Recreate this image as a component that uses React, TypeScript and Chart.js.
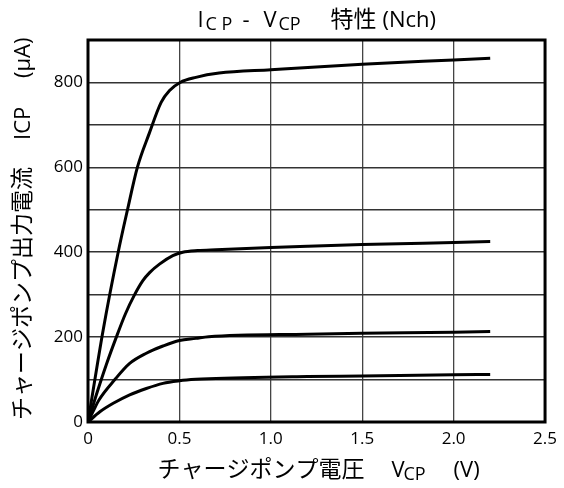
import React, { useEffect, useRef } from "react";
import { Chart, registerables } from "chart.js";

Chart.register(...registerables);

// Curve 1 (~800 µA saturation)
const v800 = [0, 0.083, 0.165, 0.216, 0.27, 0.335, 0.4, 0.446, 0.504, 0.59, 0.717, 1.0, 1.5, 2.0, 2.2];
const i800 = [0, 217, 400, 500, 600, 680, 753, 781, 800, 812, 822, 830, 843, 853, 857];
// Curve 2 (~400 µA)
const v400 = [0, 0.05, 0.1, 0.155, 0.205, 0.255, 0.3, 0.337, 0.391, 0.464, 0.518, 0.6, 0.7, 1.0, 1.2, 1.5, 2.0, 2.2];
const i400 = [0, 70, 135, 200, 255, 300, 333, 352, 372, 392, 400, 404, 406, 411, 414, 418, 423, 425];
// Curve 3 (~200 µA)
const v200 = [0, 0.03, 0.06, 0.147, 0.228, 0.319, 0.41, 0.5, 0.59, 0.66, 1.2, 1.5, 2.0, 2.2];
const i200 = [0, 27, 52, 100, 138, 162, 179, 192, 197, 201, 207, 209, 211.5, 213];
// Curve 4 (~100 µA)
const v100 = [0, 0.065, 0.138, 0.228, 0.319, 0.41, 0.5, 0.59, 0.66, 1.2, 1.5, 2.0, 2.2];
const i100 = [0, 24, 44, 64, 79, 91, 97, 100.5, 102, 107, 108.5, 111.5, 112];

const xTickLabels = ["0", "0.5", "1.0", "1.5", "2.0", "2.5"];
const yLabeled = [0, 200, 400, 600, 800];

const FONT = "'Open Sans', 'Noto Sans CJK JP', sans-serif";

// t: text, s: font size, o: offset (px) of run start from the label anchor, dy: baseline shift
type Run = { t: string; s: number; o: number; dy?: number };

const titleRuns: Run[] = [
  { t: "I", s: 22, o: -119 },
  { t: "C P", s: 18, o: -111, dy: 3 },
  { t: "-", s: 22, o: -74 },
  { t: "V", s: 22, o: -53 },
  { t: "CP", s: 18, o: -38, dy: 3 },
  { t: "特性", s: 23, o: 14 },
  { t: "(Nch)", s: 22, o: 66 },
];
const xLabelRuns: Run[] = [
  { t: "チャージポンプ電圧", s: 23, o: -159 },
  { t: "V", s: 22, o: 75 },
  { t: "CP", s: 18, o: 87, dy: 3 },
  { t: "(V)", s: 22, o: 137 },
];
// y label: offsets measured upward from the bottom anchor
const yLabelRuns: Run[] = [
  { t: "チャージポンプ出力電流", s: 23, o: 0 },
  { t: "ICP", s: 22, o: 280 },
  { t: "(μA)", s: 22, o: 342 },
];

function drawRuns(ctx: CanvasRenderingContext2D, runs: Run[], x0: number, baseY: number) {
  ctx.textAlign = "left";
  ctx.textBaseline = "alphabetic";
  for (const r of runs) {
    ctx.font = `${r.s}px ${FONT}`;
    ctx.fillText(r.t, x0 + r.o, baseY + (r.dy || 0));
  }
}

const decorPlugin = {
  id: "decor",
  afterDraw(chart: any) {
    const ctx: CanvasRenderingContext2D = chart.ctx;
    const ca = chart.chartArea;
    ctx.save();
    ctx.strokeStyle = "#000";
    ctx.lineWidth = 3;
    ctx.strokeRect(ca.left, ca.top, ca.right - ca.left, ca.bottom - ca.top);
    ctx.fillStyle = "#000";
    const cx = (ca.left + ca.right) / 2;
    drawRuns(ctx, titleRuns, cx, 27);
    drawRuns(ctx, xLabelRuns, cx, 477);
    ctx.translate(30, ca.bottom - 2);
    ctx.rotate(-Math.PI / 2);
    drawRuns(ctx, yLabelRuns, 0, 0);
    ctx.restore();
  },
};

function makeData(v: number[], i: number[]) {
  return v.map((x, k) => ({ x, y: i[k] }));
}

export default function App() {
  const ref = useRef<HTMLCanvasElement>(null);
  useEffect(() => {
    if (!ref.current) return;
    const series = [
      makeData(v800, i800),
      makeData(v400, i400),
      makeData(v200, i200),
      makeData(v100, i100),
    ];
    const chart = new Chart(ref.current, {
      type: "line",
      data: {
        datasets: series.map((d) => ({
          data: d,
          borderColor: "#000",
          borderWidth: 3,
          pointRadius: 0,
          fill: false,
          cubicInterpolationMode: "monotone" as const,
        })),
      },
      options: {
        responsive: false,
        animation: false,
        layout: { padding: { left: 0, right: 16, top: 40, bottom: 0 } },
        plugins: {
          legend: { display: false },
          tooltip: { enabled: false },
          title: { display: false },
        },
        scales: {
          x: {
            type: "linear",
            min: 0,
            max: 2.5,
            afterFit: (s: any) => {
              s.height = 66;
            },
            ticks: {
              stepSize: 0.5,
              autoSkip: false,
              maxRotation: 0,
              padding: 7,
              color: "#000",
              font: { family: FONT, size: 17 },
              callback: (val: any) => {
                const idx = Math.round(Number(val) / 0.5);
                return xTickLabels[idx] ?? "";
              },
            },
            grid: { color: "#444", lineWidth: 1.3, drawTicks: false },
            border: { display: false },
          },
          y: {
            type: "linear",
            min: 0,
            max: 900,
            afterFit: (s: any) => {
              s.width = 88;
            },
            ticks: {
              stepSize: 100,
              autoSkip: false,
              padding: 5,
              color: "#000",
              font: { family: FONT, size: 17 },
              callback: (val: any) => (yLabeled.includes(Number(val)) ? String(val) : ""),
            },
            grid: { color: "#333", lineWidth: 1.5, drawTicks: false },
            border: { display: false },
          },
        },
      },
      plugins: [decorPlugin],
    });
    return () => chart.destroy();
  }, []);
  return (
    <div style={{ position: "absolute", left: 0, top: 0, width: 564, height: 488, background: "#fff" }}>
      <canvas ref={ref} width={564} height={488} style={{ display: "block" }} />
    </div>
  );
}
